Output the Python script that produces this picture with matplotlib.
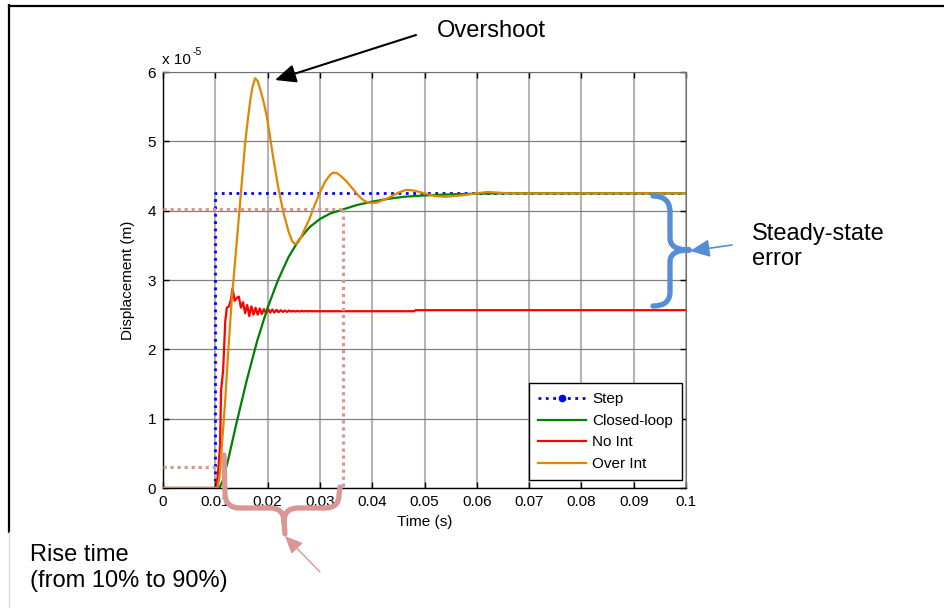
import matplotlib
matplotlib.use('Agg')
import matplotlib.pyplot as plt
from matplotlib.lines import Line2D
from matplotlib.path import Path
from matplotlib.patches import PathPatch, FancyArrowPatch

plt.rcParams['font.family'] = ['Liberation Sans', 'DejaVu Sans']

# displacement values are in units of 1e-5 m
step_t = [0.0, 0.0100, 0.0100, 0.1]
step_y = [0.0, 0.0, 4.25, 4.25]

closed_t = [0.0, 0.0108, 0.0115, 0.0125, 0.0140, 0.0160, 0.0180, 0.0200, 0.0220, 0.0240,
            0.0260, 0.0280, 0.0300, 0.0320, 0.0345, 0.0370, 0.0400, 0.0430, 0.0460, 0.0500,
            0.0550, 0.0600, 0.0650, 0.1]
closed_y = [0.0, 0.0, 0.12, 0.42, 0.92, 1.55, 2.12, 2.60, 3.00, 3.33,
            3.58, 3.76, 3.88, 3.96, 4.02, 4.08, 4.13, 4.17, 4.20, 4.22,
            4.235, 4.245, 4.25, 4.25]

noint_t = [0.0, 0.0102, 0.0105, 0.0109, 0.0111, 0.0115, 0.0119, 0.0122, 0.0126, 0.0130,
           0.0133, 0.0137, 0.0141, 0.0145, 0.0149, 0.0153, 0.0157, 0.0161, 0.0165, 0.0169,
           0.0173, 0.0177, 0.0181, 0.0185, 0.0189, 0.0193, 0.0197, 0.0201, 0.0205, 0.0209,
           0.0213, 0.0217, 0.0221, 0.0225, 0.0229, 0.0233, 0.0237, 0.0241, 0.0245, 0.0249,
           0.0253, 0.0257, 0.0261, 0.0265, 0.0269, 0.0273, 0.0277, 0.0281, 0.0285, 0.0290,
           0.0480, 0.0483, 0.1]
noint_y = [0.0, 0.0, 0.20, 0.60, 1.40, 1.70, 2.40, 2.60, 2.62, 2.72,
           2.88, 2.70, 2.74, 2.76, 2.60, 2.68, 2.52, 2.64, 2.48, 2.62,
           2.50, 2.60, 2.50, 2.59, 2.51, 2.58, 2.52, 2.58, 2.53, 2.575,
           2.53, 2.57, 2.535, 2.565, 2.54, 2.56, 2.54, 2.56, 2.545, 2.555,
           2.545, 2.555, 2.545, 2.555, 2.548, 2.553, 2.548, 2.553, 2.55, 2.55,
           2.55, 2.565, 2.565]

overint_t = [0.0, 0.0104, 0.0108, 0.0112, 0.0119, 0.0125, 0.0131, 0.0138, 0.0145, 0.0150,
             0.0157, 0.0162, 0.0167, 0.0171, 0.0176, 0.0181, 0.0186, 0.0192, 0.0198, 0.0205,
             0.0210, 0.0220, 0.0230, 0.0240, 0.0247, 0.0252, 0.0257, 0.0263, 0.0270, 0.0280,
             0.0290, 0.0300, 0.0310, 0.0320, 0.0326, 0.0333, 0.0340, 0.0350, 0.0360, 0.0370,
             0.0380, 0.0390, 0.0400, 0.0410, 0.0430, 0.0450, 0.0465, 0.0480, 0.0500, 0.0520,
             0.0540, 0.0570, 0.0600, 0.0620, 0.0640, 0.0660, 0.1]
overint_y = [0.0, 0.0, 0.15, 0.55, 1.27, 2.00, 2.67, 3.29, 3.90, 4.35,
             4.97, 5.30, 5.60, 5.78, 5.91, 5.87, 5.75, 5.58, 5.38, 5.05,
             4.80, 4.35, 3.98, 3.70, 3.56, 3.52, 3.53, 3.60, 3.72, 3.88,
             4.08, 4.26, 4.42, 4.52, 4.55, 4.54, 4.50, 4.43, 4.34, 4.25,
             4.17, 4.12, 4.11, 4.12, 4.18, 4.26, 4.30, 4.29, 4.25, 4.21,
             4.20, 4.22, 4.25, 4.27, 4.26, 4.25, 4.25]

# rise time guide lines (10% and 90% levels)
rise_t = [0.0103, 0.0345]
rise_y = [0.30, 4.02]

xticks = [0, 0.01, 0.02, 0.03, 0.04, 0.05, 0.06, 0.07, 0.08, 0.09, 0.1]
xtick_labels = ['0', '0.01', '0.02', '0.03', '0.04', '0.05', '0.06', '0.07', '0.08', '0.09', '0.1']
yticks = [0, 1, 2, 3, 4, 5, 6]

W, H = 944, 608
PINK = '#d99694'
BLUE_NOTE = '#558ed5'


def f(x, y):
    # figure pixel (from top-left) -> figure fraction
    return (x / W, 1 - y / H)


fig = plt.figure(figsize=(W / 100, H / 100), dpi=100)
ax = fig.add_axes([163 / W, 1 - 488 / H, 523 / W, 416 / H])

ax.plot(step_t, step_y, ':', color='#0000ff', lw=2.0, zorder=3)
ax.plot(noint_t, noint_y, '-', color='#ff0000', lw=1.6, zorder=4)
ax.plot(closed_t, closed_y, '-', color='#008000', lw=1.6, zorder=4)
ax.plot(overint_t, overint_y, '-', color='#e08600', lw=1.6, zorder=5)

# rise time markers
dots = (0, (1, 1.2))
ax.plot([0, rise_t[0]], [rise_y[0], rise_y[0]], color=PINK, lw=2.3, linestyle=dots, zorder=6)
ax.plot([0, rise_t[1]], [rise_y[1], rise_y[1]], color=PINK, lw=2.3, linestyle=dots, zorder=6)
ax.plot([rise_t[1], rise_t[1]], [rise_y[1], 0.02], color=PINK, lw=2.3, linestyle=dots, zorder=6)

ax.set_xlim(0, 0.1)
ax.set_ylim(0, 6)
ax.set_xticks(xticks)
ax.set_xticklabels(xtick_labels)
ax.set_yticks(yticks)
ax.tick_params(direction='in', length=4, width=1, labelsize=11, pad=5,
               top=True, right=True, colors='black')
ax.xaxis.grid(True, color='#b4b4b4', lw=1.5)
ax.yaxis.grid(True, color='#808080', lw=0.9)
ax.set_axisbelow(True)
for s in ['left', 'bottom']:
    ax.spines[s].set_color('black')
    ax.spines[s].set_linewidth(1.0)
for s in ['top', 'right']:
    ax.spines[s].set_color('#707070')
    ax.spines[s].set_linewidth(0.8)

ax.set_xlabel('Time (s)', fontsize=11)
ax.set_ylabel('Displacement (m)', fontsize=11)
ax.xaxis.set_label_coords(0.5, (488 - 522) / 416)
ax.yaxis.set_label_coords((128 - 163) / 523, 0.5)
ax.xaxis.label.set_va('center')
ax.yaxis.label.set_va('center')

fig.text(*f(162, 60), 'x 10', fontsize=11, va='center', ha='left')
fig.text(*f(193, 52), '-5', fontsize=7.5, va='center', ha='left')

handles = [
    Line2D([], [], ls=':', color='#0000ff', lw=2.0, marker='.', markersize=9),
    Line2D([], [], color='#008000', lw=1.6),
    Line2D([], [], color='#ff0000', lw=1.6),
    Line2D([], [], color='#e08600', lw=1.6),
]
leg = ax.legend(handles, ['Step', 'Closed-loop', 'No Int', 'Over Int'],
                loc='lower right', bbox_to_anchor=f(682, 480),
                bbox_transform=fig.transFigure, fontsize=11, frameon=True,
                fancybox=False, edgecolor='black', framealpha=1,
                handlelength=3.15, handletextpad=0.4, labelspacing=0.5,
                borderaxespad=0, borderpad=0.58)
leg.get_frame().set_linewidth(1.0)
leg.set_zorder(10)

# figure frame
fig.add_artist(Line2D([9 / W, 9 / W], [1 - 5 / H, 1 - 532 / H], transform=fig.transFigure,
                      color='black', lw=1.6))
fig.add_artist(Line2D([9 / W, 1], [1 - 6 / H, 1 - 6 / H], transform=fig.transFigure,
                      color='black', lw=1.6))
fig.add_artist(Line2D([9 / W, 9 / W], [1 - 532 / H, 0], transform=fig.transFigure,
                      color='#d8d8d8', lw=1.0))

M, L, C = Path.MOVETO, Path.LINETO, Path.CURVE3

# pink brace under the rise time span
pink_pts = [(224, 455), (225, 495), (226, 508), (240, 508), (270, 508), (284, 508), (284, 522),
            (285, 534),
            (284, 522), (284, 508), (298, 508), (325, 508), (339, 508), (339, 495), (340, 487)]
pink_codes = [M, L, C, C, L, C, C, L, M, C, C, L, C, C, L]
fig.add_artist(PathPatch(Path([f(*p) for p in pink_pts], pink_codes), transform=fig.transFigure,
                         fill=False, ec=PINK, lw=3.8, capstyle='round', joinstyle='round'))

# blue brace for steady-state error
blue_pts = [(653, 196), (670, 196), (670, 212), (670, 238), (670, 250), (689, 250),
            (689, 250), (670, 250), (670, 262), (670, 292), (670, 306), (653, 306)]
blue_codes = [M, C, C, L, C, C, M, C, C, L, C, C]
fig.add_artist(PathPatch(Path([f(*p) for p in blue_pts], blue_codes), transform=fig.transFigure,
                         fill=False, ec=BLUE_NOTE, lw=3.8, capstyle='round', joinstyle='round'))

# arrows
fig.add_artist(FancyArrowPatch(f(416, 35), f(275, 80), transform=fig.transFigure,
                               arrowstyle='-|>,head_length=0.9,head_width=0.4', mutation_scale=14,
                               color='black', lw=1.5, shrinkA=0, shrinkB=0))
fig.add_artist(FancyArrowPatch(f(320, 572), f(285, 536), transform=fig.transFigure,
                               arrowstyle='-|>,head_length=0.9,head_width=0.4', mutation_scale=12,
                               color=PINK, lw=1.0, shrinkA=0, shrinkB=0))
fig.add_artist(FancyArrowPatch(f(732, 245), f(690, 251), transform=fig.transFigure,
                               arrowstyle='-|>,head_length=1.0,head_width=0.45', mutation_scale=12,
                               color=BLUE_NOTE, lw=1.2, shrinkA=0, shrinkB=0))

# annotation text
fig.text(*f(437, 31), 'Overshoot', fontsize=17, va='center', ha='left')
fig.text(*f(752, 223), 'Steady-state\nerror', fontsize=17, va='top', ha='left', linespacing=1.2)
fig.text(*f(30, 544), 'Rise time\n(from 10% to 90%)', fontsize=17, va='top', ha='left',
         linespacing=1.25)

fig.savefig('out.png', dpi=100)
